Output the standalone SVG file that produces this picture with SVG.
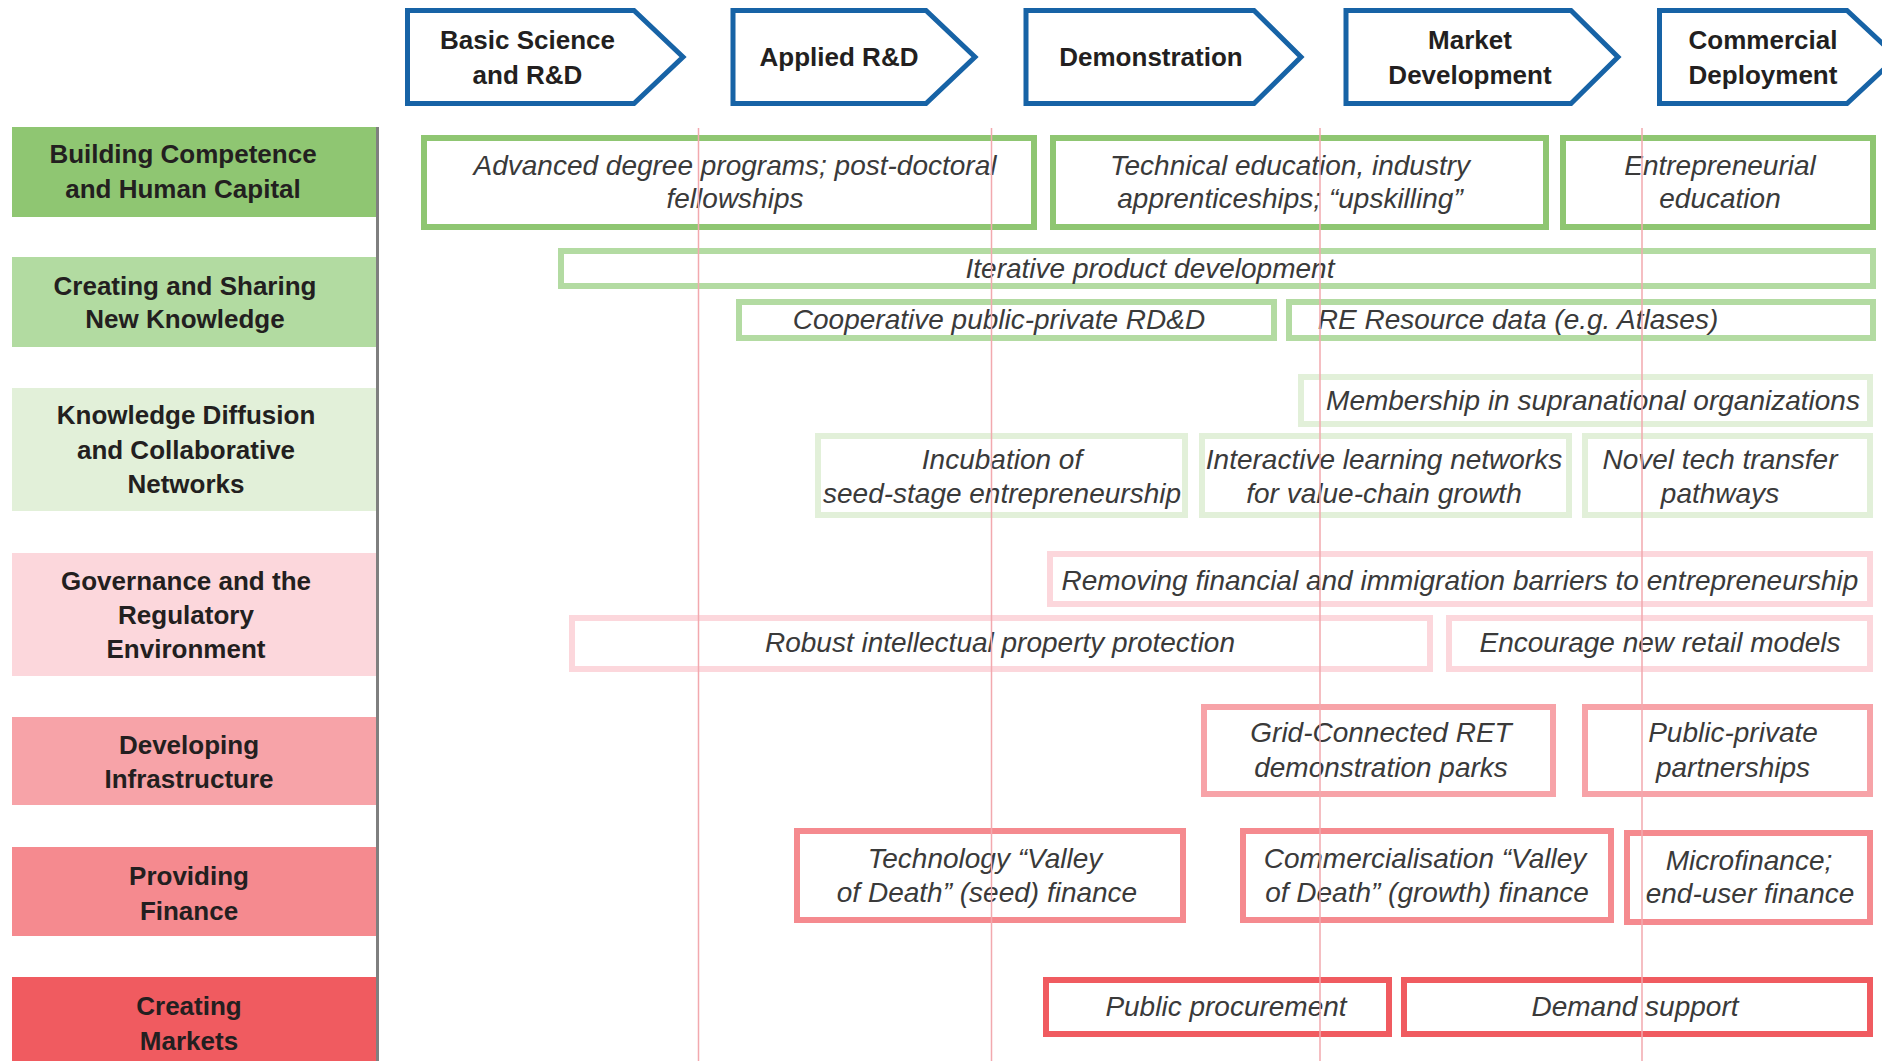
<svg xmlns="http://www.w3.org/2000/svg" width="1882" height="1061" viewBox="0 0 1882 1061">
<style>
.chev{fill:#fff;stroke:#1763a6;stroke-width:5;stroke-linejoin:miter}
.hd{font-family:"Liberation Sans",Arial,sans-serif;font-weight:bold;font-size:26px;fill:#231f20;text-anchor:middle}
.it{font-family:"Liberation Sans",Arial,sans-serif;font-style:italic;font-size:28px;fill:#3a3a3a;text-anchor:middle}
.box{fill:#fff;stroke-width:6}
.r1{stroke:#8fc672}.r2{stroke:#b3dba2}.r3{stroke:#e2f0d9}.r4{stroke:#fcd7dc}.r5{stroke:#f7a3a8}.r6{stroke:#f58a8f}.r7{stroke:#f05b60}
.guide{stroke:#f2a9ae;stroke-width:1.5}
</style>
<rect width="1882" height="1061" fill="#fff"/>

<!-- stage chevrons -->
<g id="stage-basic">
<polygon class="chev" points="407.5,10.5 634,10.5 683,57 634,103.5 407.5,103.5"/>
<text class="hd" x="527.5" y="49">Basic Science</text>
<text class="hd" x="527.5" y="84">and R&amp;D</text>
</g>
<g id="stage-applied">
<polygon class="chev" points="733,10.5 926,10.5 975,57 926,103.5 733,103.5"/>
<text class="hd" x="839" y="66">Applied R&amp;D</text>
</g>
<g id="stage-demo">
<polygon class="chev" points="1026,10.5 1254,10.5 1301,57 1254,103.5 1026,103.5"/>
<text class="hd" x="1151" y="66">Demonstration</text>
</g>
<g id="stage-market">
<polygon class="chev" points="1346,10.5 1571,10.5 1618,57 1571,103.5 1346,103.5"/>
<text class="hd" x="1470" y="49">Market</text>
<text class="hd" x="1470" y="84">Development</text>
</g>
<g id="stage-commercial">
<polygon class="chev" points="1659.5,10.5 1847,10.5 1897,57 1847,103.5 1659.5,103.5"/>
<text class="hd" x="1763" y="49">Commercial</text>
<text class="hd" x="1763" y="84">Deployment</text>
</g>

<!-- row labels -->
<g id="row-competence">
<rect x="12" y="127" width="364" height="90" fill="#8fc672"/>
<text class="hd" x="183" y="163">Building Competence</text>
<text class="hd" x="183" y="198">and Human Capital</text>
</g>
<g id="row-knowledge">
<rect x="12" y="257" width="364" height="90" fill="#b2dba1"/>
<text class="hd" x="185" y="295">Creating and Sharing</text>
<text class="hd" x="185" y="328">New Knowledge</text>
</g>
<g id="row-diffusion">
<rect x="12" y="388" width="364" height="123" fill="#e2f0d9"/>
<text class="hd" x="186" y="424">Knowledge Diffusion</text>
<text class="hd" x="186" y="459">and Collaborative</text>
<text class="hd" x="186" y="493">Networks</text>
</g>
<g id="row-governance">
<rect x="12" y="553" width="364" height="123" fill="#fcd7dc"/>
<text class="hd" x="186" y="590">Governance and the</text>
<text class="hd" x="186" y="624">Regulatory</text>
<text class="hd" x="186" y="658">Environment</text>
</g>
<g id="row-infrastructure">
<rect x="12" y="717" width="364" height="88" fill="#f7a3a8"/>
<text class="hd" x="189" y="754">Developing</text>
<text class="hd" x="189" y="788">Infrastructure</text>
</g>
<g id="row-finance">
<rect x="12" y="847" width="364" height="89" fill="#f58a8f"/>
<text class="hd" x="189" y="885">Providing</text>
<text class="hd" x="189" y="920">Finance</text>
</g>
<g id="row-markets">
<rect x="12" y="977" width="364" height="90" fill="#f05b60"/>
<text class="hd" x="189" y="1015">Creating</text>
<text class="hd" x="189" y="1050">Markets</text>
</g>
<line x1="377.5" y1="127" x2="377.5" y2="1061" stroke="#7f7f7f" stroke-width="3"/>

<!-- row 1 -->
<g id="advanced-degree">
<rect class="box r1" x="424" y="138" width="610" height="89"/>
<text class="it" x="735" y="175">Advanced degree programs; post-doctoral</text>
<text class="it" x="735" y="208">fellowships</text>
</g>
<g id="technical-education">
<rect class="box r1" x="1053" y="138" width="493" height="89"/>
<text class="it" x="1290" y="175">Technical education, industry</text>
<text class="it" x="1290" y="208">apprenticeships; “upskilling”</text>
</g>
<g id="entrepreneurial-education">
<rect class="box r1" x="1563" y="138" width="310" height="89"/>
<text class="it" x="1720" y="175">Entrepreneurial</text>
<text class="it" x="1720" y="208">education</text>
</g>

<!-- row 2 -->
<g id="iterative">
<rect class="box r2" x="561" y="251" width="1312" height="35"/>
<text class="it" x="1150" y="278">Iterative product development</text>
</g>
<g id="cooperative">
<rect class="box r2" x="739" y="302" width="535" height="36"/>
<text class="it" x="999" y="329">Cooperative public-private RD&amp;D</text>
</g>
<g id="re-resource">
<rect class="box r2" x="1289" y="302" width="584" height="36"/>
<text class="it" x="1518" y="329">RE Resource data (e.g. Atlases)</text>
</g>

<!-- row 3 -->
<g id="membership">
<rect class="box r3" x="1301" y="377" width="569" height="47"/>
<text class="it" x="1593" y="410">Membership in supranational organizations</text>
</g>
<g id="incubation">
<rect class="box r3" x="818" y="436" width="367" height="79"/>
<text class="it" x="1002" y="469">Incubation of</text>
<text class="it" x="1002" y="503">seed-stage entrepreneurship</text>
</g>
<g id="interactive">
<rect class="box r3" x="1202" y="436" width="367" height="79"/>
<text class="it" x="1384" y="469">Interactive learning networks</text>
<text class="it" x="1384" y="503">for value-chain growth</text>
</g>
<g id="novel-tech">
<rect class="box r3" x="1585" y="436" width="285" height="79"/>
<text class="it" x="1720" y="469">Novel tech transfer</text>
<text class="it" x="1720" y="503">pathways</text>
</g>

<!-- row 4 -->
<g id="removing-barriers">
<rect class="box r4" x="1050" y="554" width="820" height="50"/>
<text class="it" x="1460" y="590">Removing financial and immigration barriers to entrepreneurship</text>
</g>
<g id="robust-ip">
<rect class="box r4" x="572" y="618" width="858" height="51"/>
<text class="it" x="1000" y="652">Robust intellectual property protection</text>
</g>
<g id="retail-models">
<rect class="box r4" x="1449" y="618" width="421" height="51"/>
<text class="it" x="1660" y="652">Encourage new retail models</text>
</g>

<!-- row 5 -->
<g id="grid-connected">
<rect class="box r5" x="1204" y="707" width="349" height="87"/>
<text class="it" x="1381" y="742">Grid-Connected RET</text>
<text class="it" x="1381" y="777">demonstration parks</text>
</g>
<g id="ppp">
<rect class="box r5" x="1585" y="707" width="285" height="87"/>
<text class="it" x="1733" y="742">Public-private</text>
<text class="it" x="1733" y="777">partnerships</text>
</g>

<!-- row 6 -->
<g id="seed-finance">
<rect class="box r6" x="797" y="831" width="386" height="89"/>
<text class="it" x="985" y="868">Technology “Valley</text>
<text class="it" x="987" y="902">of Death” (seed) finance</text>
</g>
<g id="growth-finance">
<rect class="box r6" x="1243" y="831" width="368" height="89"/>
<text class="it" x="1425" y="868">Commercialisation “Valley</text>
<text class="it" x="1427" y="902">of Death” (growth) finance</text>
</g>
<g id="microfinance">
<rect class="box r6" x="1627" y="833" width="243" height="89"/>
<text class="it" x="1749" y="870">Microfinance;</text>
<text class="it" x="1750" y="903">end-user finance</text>
</g>

<!-- row 7 -->
<g id="procurement">
<rect class="box r7" x="1046" y="980" width="343" height="54"/>
<text class="it" x="1226" y="1016">Public procurement</text>
</g>
<g id="demand-support">
<rect class="box r7" x="1404" y="980" width="466" height="54"/>
<text class="it" x="1635" y="1016">Demand support</text>
</g>

<!-- stage guide lines -->
<g id="connectors">
<line class="guide" x1="698.5" y1="128" x2="698.5" y2="1061"/>
<line class="guide" x1="991.5" y1="128" x2="991.5" y2="1061"/>
<line class="guide" x1="1320" y1="128" x2="1320" y2="1061"/>
<line class="guide" x1="1642" y1="128" x2="1642" y2="1061"/>
</g>
</svg>
